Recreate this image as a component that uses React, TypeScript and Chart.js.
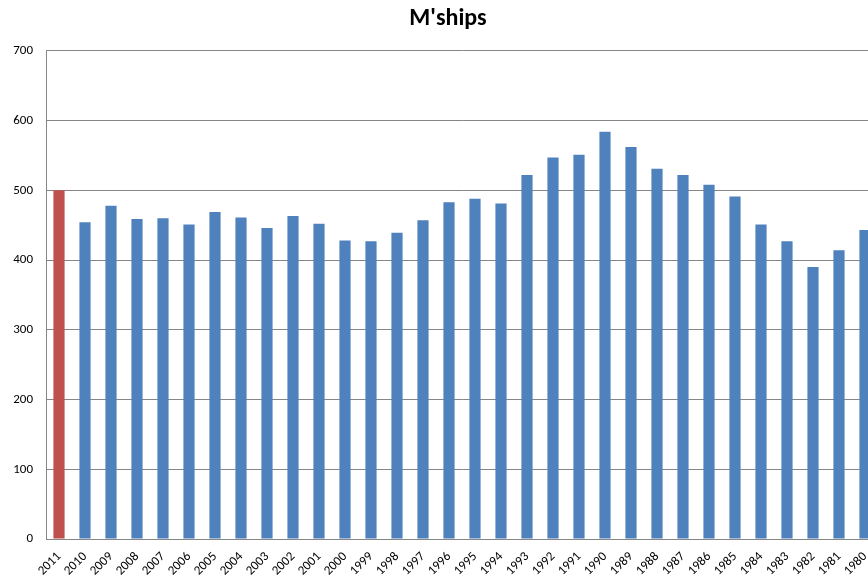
import React, { useEffect, useRef } from "react";
import { Chart, registerables } from "chart.js";

Chart.register(...registerables);

const years: string[] = [
  "2011", "2010", "2009", "2008", "2007", "2006", "2005", "2004", "2003", "2002", "2001",
  "2000", "1999", "1998", "1997", "1996", "1995", "1994", "1993", "1992", "1991",
  "1990", "1989", "1988", "1987", "1986", "1985", "1984", "1983", "1982", "1981", "1980",
];

const memberships: number[] = [
  500, 454, 478, 459, 460, 451, 469, 461, 446, 463, 452,
  428, 427, 439, 457, 483, 488, 481, 522, 547, 551,
  584, 562, 531, 522, 508, 491, 451, 427, 390, 414, 443,
];

const currentColor = "#C0504D";
const pastColor = "#4F81BD";
const titleText = "M'ships";
const yTicks = { min: 0, max: 700, step: 100 };

const FONT = "Carlito, 'Liberation Sans Narrow', 'Open Sans', sans-serif";

export default function App() {
  const ref = useRef<HTMLCanvasElement | null>(null);

  useEffect(() => {
    if (!ref.current) return;
    const chart = new Chart(ref.current, {
      type: "bar",
      data: {
        labels: years,
        datasets: [
          {
            label: titleText,
            data: memberships,
            backgroundColor: years.map((_, i) => (i === 0 ? currentColor : pastColor)),
            borderWidth: 0,
            barPercentage: 0.43,
            categoryPercentage: 1,
          },
        ],
      },
      options: {
        responsive: false,
        animation: false,
        devicePixelRatio: 1,
        layout: { padding: 0 },
        plugins: {
          legend: { display: false },
          tooltip: { enabled: false },
          title: {
            display: true,
            text: titleText,
            color: "#000000",
            font: { family: FONT, size: 24, weight: "bold" },
            padding: { top: 5, bottom: 17 },
          },
        },
        scales: {
          x: {
            grid: { display: false },
            border: { display: true, color: "#868686", width: 1 },
            ticks: {
              color: "#000000",
              font: { family: FONT, size: 13 },
              minRotation: 45,
              maxRotation: 45,
              autoSkip: false,
              padding: 2,
            },
            afterFit: (scale: any) => {
              scale.height = 36;
            },
          },
          y: {
            min: yTicks.min,
            max: yTicks.max,
            grid: { color: "#868686", drawTicks: false, lineWidth: 1 },
            border: { display: true, color: "#868686", width: 1 },
            ticks: {
              stepSize: yTicks.step,
              color: "#000000",
              font: { family: FONT, size: 13 },
              padding: 13,
            },
            afterFit: (scale: any) => {
              scale.width = 46;
            },
          },
          spacer: {
            type: "linear",
            position: "right",
            display: true,
            grid: { display: false },
            border: { display: false },
            ticks: { display: false },
            afterFit: (scale: any) => {
              scale.width = 18;
            },
          },
        },
      },
    });
    return () => chart.destroy();
  }, []);

  return (
    <div
      style={{
        position: "fixed",
        left: 0,
        top: 0,
        width: 868,
        height: 575,
        overflow: "hidden",
        background: "#ffffff",
      }}
    >
      <canvas ref={ref} width={896} height={575} style={{ width: 896, height: 575, display: "block" }} />
    </div>
  );
}
